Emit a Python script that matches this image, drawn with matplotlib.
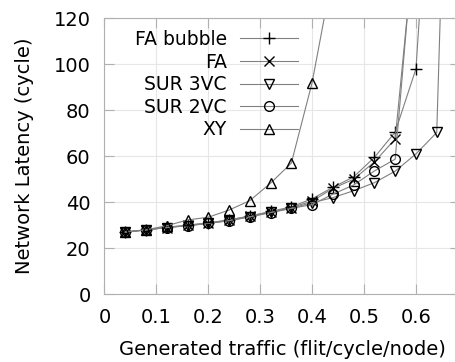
import numpy as np
import matplotlib
matplotlib.use("Agg")
import matplotlib.pyplot as plt

# Generated traffic (flit/cycle/node) vs network latency (cycle)
x_fa_bubble = [0.04, 0.08, 0.12, 0.16, 0.20, 0.24, 0.28, 0.32, 0.36, 0.40, 0.44, 0.48, 0.52, 0.56, 0.60, 0.64]
y_fa_bubble = [27, 28, 29.2, 30, 31, 32.3, 34, 36, 38, 41.5, 46.5, 51, 59.5, 70.5, 98, 235]

x_fa = [0.04, 0.08, 0.12, 0.16, 0.20, 0.24, 0.28, 0.32, 0.36, 0.40, 0.44, 0.48, 0.52, 0.56, 0.60]
y_fa = [27, 28, 29, 30, 31, 32.3, 34, 35.8, 37.7, 40.5, 46, 50, 57.5, 67.5, 160]

x_sur3 = [0.04, 0.08, 0.12, 0.16, 0.20, 0.24, 0.28, 0.32, 0.36, 0.40, 0.44, 0.48, 0.52, 0.56, 0.60, 0.64, 0.68]
y_sur3 = [27, 28, 29, 29.8, 30.8, 32, 33.7, 35.6, 37.4, 39.8, 42, 45, 48.5, 53.5, 61, 70.3, 370]

x_sur2 = [0.04, 0.08, 0.12, 0.16, 0.20, 0.24, 0.28, 0.32, 0.36, 0.40, 0.44, 0.48, 0.52, 0.56, 0.60]
y_sur2 = [27, 28, 29, 29.8, 30.8, 32, 33.6, 35.5, 37.3, 39, 43.5, 47.5, 53.6, 58.7, 165]

x_xy = [0.04, 0.08, 0.12, 0.16, 0.20, 0.24, 0.28, 0.32, 0.36, 0.40, 0.44]
y_xy = [27.2, 28, 29.8, 32.3, 33.5, 36.6, 40.7, 48.3, 57, 92, 140]

series = [
    ("FA bubble", x_fa_bubble, y_fa_bubble, "+", 9),
    ("FA", x_fa, y_fa, "x", 7),
    ("SUR 3VC", x_sur3, y_sur3, "v", 7),
    ("SUR 2VC", x_sur2, y_sur2, "o", 7),
    ("XY", x_xy, y_xy, "^", 7),
]

plt.rcParams['font.family'] = 'DejaVu Sans'
fig = plt.figure(figsize=(4.56, 3.62), dpi=100)
ax = fig.add_axes([0.229, 0.187, 0.78, 0.763])

for label, xs, ys, m, ms in series:
    ax.plot(xs, ys, color="#808080", lw=0.8, marker=m, markersize=ms,
            markerfacecolor="none", markeredgecolor="black", markeredgewidth=1.0,
            label=label)

ax.set_xlim(0, 0.685)
ax.set_ylim(0, 120)
ax.set_xticks([0, 0.1, 0.2, 0.3, 0.4, 0.5, 0.6])
ax.set_xticklabels(["0", "0.1", "0.2", "0.3", "0.4", "0.5", "0.6"])
ax.set_yticks([0, 20, 40, 60, 80, 100, 120])

ax.grid(True, color="#e6e6e6", lw=0.8)
for s in ax.spines.values():
    s.set_color("#b0b0b0")
ax.tick_params(direction="in", length=7, color="#b0b0b0", labelsize=14,
               top=True, right=True)
ax.tick_params(axis="x", pad=10)
ax.tick_params(axis="y", pad=10)

ax.set_xlabel("Generated traffic (flit/cycle/node)", fontsize=14, labelpad=9)
ax.set_ylabel("Network Latency (cycle)", fontsize=14, labelpad=14)

ax.legend(loc="upper right", frameon=False, markerfirst=False, fontsize=13.5,
          handlelength=3.1, labelspacing=0.19, borderaxespad=0, borderpad=0,
          bbox_to_anchor=(0.544, 0.957), handletextpad=0.7)

fig.savefig("out.png", dpi=100)
